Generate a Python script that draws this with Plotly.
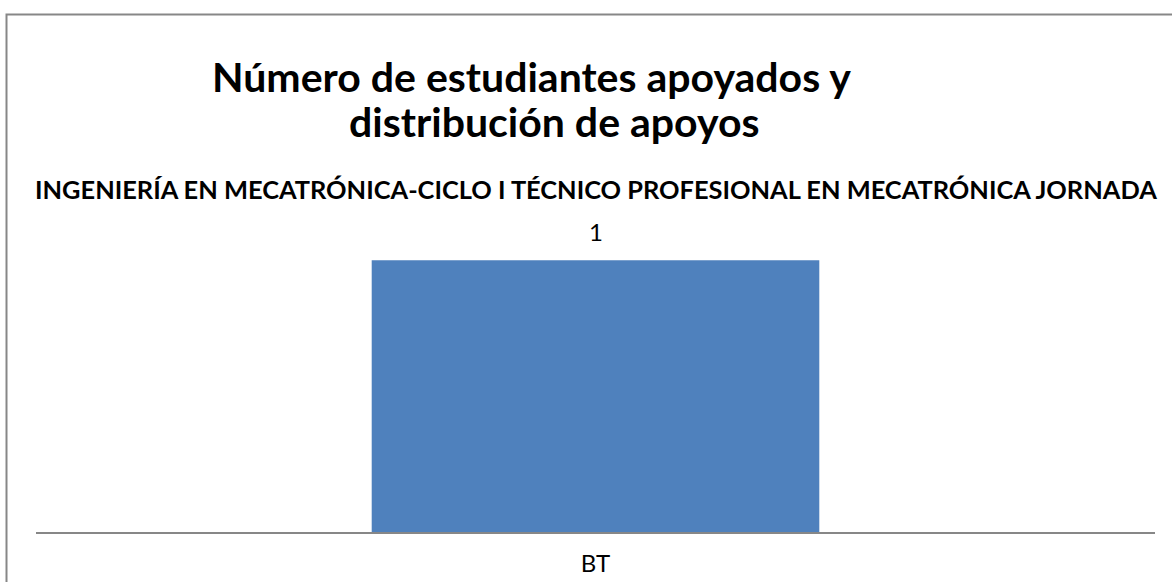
import plotly.graph_objects as go

# Chart data
categories = ["BT"]
values = [1]
title_lines = ["Número de estudiantes apoyados y", "distribución de apoyos"]
subtitle = "INGENIERÍA EN MECATRÓNICA-CICLO I TÉCNICO PROFESIONAL EN MECATRÓNICA JORNADA"

W, H = 1172, 582
M_L, M_R, M_T, M_B = 36, 17, 206, 50
PLOT_W = W - M_L - M_R
PLOT_H = H - M_T - M_B


def px(xpix):
    return (xpix - M_L) / PLOT_W


def py(ypix):
    return (H - M_B - ypix) / PLOT_H


FONT = "Lato, 'Open Sans', sans-serif"
BAR_COLOR = "#4F81BD"
FRAME = "#878787"

fig = go.Figure()
fig.add_trace(go.Bar(
    x=categories,
    y=values,
    width=0.4,
    marker=dict(color=BAR_COLOR, line=dict(width=0)),
    hoverinfo="skip",
))

annotations = [
    dict(text=f"<b>{title_lines[0]}</b>", x=px(531), y=py(76), xref="paper", yref="paper",
         showarrow=False, xanchor="center", yanchor="middle",
         font=dict(family=FONT, size=41, color="#000000")),
    dict(text=f"<b>{title_lines[1]}</b>", x=px(554), y=py(122), xref="paper", yref="paper",
         showarrow=False, xanchor="center", yanchor="middle",
         font=dict(family=FONT, size=41, color="#000000")),
    dict(text=f"<b>{subtitle}</b>", x=px(596), y=py(189), xref="paper", yref="paper",
         showarrow=False, xanchor="center", yanchor="middle",
         font=dict(family=FONT, size=25.4, color="#000000")),
]

# Data labels above each bar
for c, v in zip(categories, values):
    annotations.append(dict(
        text=str(v), x=c, y=v, xref="x", yref="y", showarrow=False,
        xanchor="center", yanchor="bottom", yshift=12,
        font=dict(family=FONT, size=24, color="#000000"),
    ))

fig.update_layout(
    width=W, height=H,
    margin=dict(l=M_L, r=M_R, t=M_T, b=M_B, pad=0, autoexpand=False),
    paper_bgcolor="#FFFFFF",
    plot_bgcolor="#FFFFFF",
    showlegend=False,
    annotations=annotations,
    shapes=[
        dict(type="rect", xref="paper", yref="paper",
             x0=px(6.5), y0=py(14.5), x1=px(W + 20), y1=py(H + 20),
             line=dict(color=FRAME, width=2), fillcolor="rgba(0,0,0,0)", layer="below"),
    ],
    xaxis=dict(
        range=[-0.5, 0.5],
        automargin=False,
        showgrid=False, zeroline=False,
        showline=True, linecolor=FRAME, linewidth=2,
        ticks="outside", ticklen=9, tickcolor="rgba(0,0,0,0)",
        tickfont=dict(family=FONT, size=24, color="#000000"),
        fixedrange=True,
    ),
    yaxis=dict(
        range=[0, 1.2],
        automargin=False,
        visible=False, showgrid=False, zeroline=False,
        fixedrange=True,
    ),
)

fig.write_html("out.html")
